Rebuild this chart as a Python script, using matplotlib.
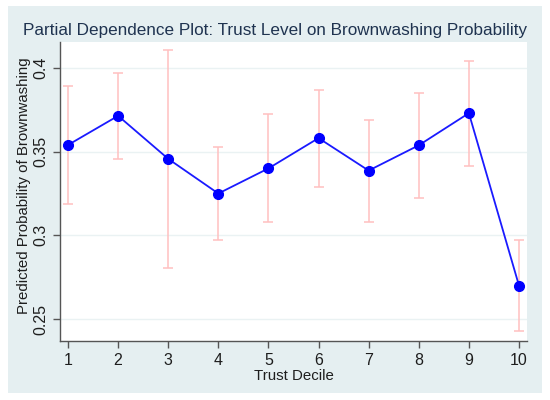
import numpy as np
import matplotlib
matplotlib.use("Agg")
import matplotlib.pyplot as plt

plt.rcParams['font.family'] = ['Liberation Sans', 'DejaVu Sans']

# Data
decile = [1, 2, 3, 4, 5, 6, 7, 8, 9, 10]
prob = [0.354, 0.3714, 0.3457, 0.325, 0.340, 0.3581, 0.3387, 0.3538, 0.373, 0.270]
ci_low = [0.319, 0.3457, 0.2808, 0.2972, 0.3079, 0.3288, 0.3081, 0.3222, 0.3417, 0.2429]
ci_high = [0.3895, 0.3972, 0.4107, 0.3526, 0.3726, 0.3871, 0.369, 0.3853, 0.4043, 0.2974]
yticks = [0.25, 0.3, 0.35, 0.4]
yticklabels = ["0.25", "0.3", "0.35", "0.4"]

W, H = 550, 400
fig = plt.figure(figsize=(W / 100, H / 100), dpi=100)
fig.patch.set_facecolor("white")

# Stata-style graph region behind the plot
bg = fig.add_axes([8 / W, 1 - 393 / H, 534 / W, 387 / H], zorder=-1)
bg.set_facecolor("#e5eff1")
bg.set_xticks([])
bg.set_yticks([])
for s in bg.spines.values():
    s.set_visible(False)

ax = fig.add_axes([60 / W, 1 - 341 / H, 467 / W, 299 / H], zorder=1)
ax.set_facecolor("white")

prob = np.array(prob)
err = [prob - np.array(ci_low), np.array(ci_high) - prob]
ax.errorbar(decile, prob, yerr=err, fmt="none", ecolor="#ffc0c0",
            elinewidth=1.1, capsize=3.5, capthick=1.1, zorder=2)
ax.plot(decile, prob, color="#1a1aff", lw=1.3, marker="o", ms=7,
        markerfacecolor="#0000ff", markeredgecolor="#0000ff", zorder=3)

ax.set_xlim(0.84, 10.16)
ax.set_ylim(0.2369, 0.4155)
ax.set_xticks(decile)
ax.set_yticks(yticks)
ax.set_yticklabels(yticklabels, rotation=90, va="center")
ax.grid(axis="y", color="#eaf2f3", lw=1.0)
ax.set_axisbelow(True)

for s in ["top", "right"]:
    ax.spines[s].set_visible(False)
for s in ["left", "bottom"]:
    ax.spines[s].set_color("#555555")
    ax.spines[s].set_linewidth(1.0)
ax.tick_params(colors="#555555", labelcolor="#1e1e1e", labelsize=11.5, length=5, width=1)

ax.set_xlabel("Trust Decile", fontsize=10.8, color="#1e1e1e")
ax.xaxis.set_label_coords(0.5, -0.094)
ax.set_ylabel("Predicted Probability of Brownwashing", fontsize=10.8,
              color="#1e1e1e")
ax.yaxis.set_label_coords(-0.062, 0.52)

fig.text(275 / W, 1 - 31 / H,
         "Partial Dependence Plot: Trust Level on Brownwashing Probability",
         ha="center", va="center", fontsize=12.3, color="#1f3350")

fig.savefig("out.png", dpi=100)
